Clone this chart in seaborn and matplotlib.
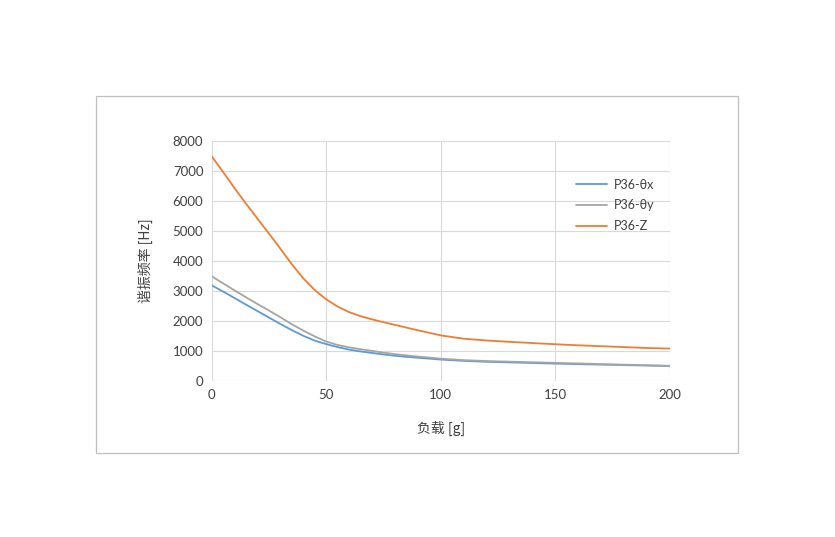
import numpy as np
import pandas as pd
import matplotlib.pyplot as plt
import matplotlib.patches as mpatches
import seaborn as sns

# 负载 [g] 和谐振频率 [Hz]
load = [0, 5, 10, 15, 20, 25, 30, 35, 40, 45, 50, 55, 60, 65, 70, 75, 80, 85, 90, 95, 100,
        110, 120, 130, 140, 150, 160, 170, 180, 190, 200]
p36_tx = [3190, 2980, 2765, 2545, 2330, 2115, 1900, 1695, 1505, 1345, 1230, 1130, 1045, 985,
          935, 885, 840, 805, 775, 745, 715,
          670, 640, 620, 600, 580, 562, 546, 530, 515, 500]
p36_ty = [3490, 3255, 3020, 2790, 2565, 2350, 2125, 1890, 1680, 1485, 1315, 1200, 1120, 1060,
          1005, 945, 895, 855, 815, 780, 745,
          695, 665, 645, 625, 605, 585, 565, 545, 525, 505]
p36_z = [7490, 6965, 6425, 5910, 5410, 4915, 4410, 3890, 3420, 3030, 2720, 2480, 2295, 2160,
         2055, 1960, 1870, 1780, 1690, 1605, 1520,
         1410, 1350, 1305, 1265, 1225, 1190, 1160, 1130, 1100, 1080]
series_names = ['P36-θx', 'P36-θy', 'P36-Z']

df = pd.DataFrame({'load': load, 'P36-θx': p36_tx, 'P36-θy': p36_ty, 'P36-Z': p36_z})
long_df = df.melt(id_vars='load', var_name='series', value_name='freq')

sns.set_style('white')
plt.rcParams['font.family'] = ['Lato', 'Noto Sans CJK SC', 'DejaVu Sans']

fig = plt.figure(figsize=(8.35, 5.37), dpi=100)
ax = fig.add_axes([0.2535, 0.2905, 0.5489, 0.4469])

palette = {'P36-θx': '#5B9BD5', 'P36-θy': '#A5A5A5', 'P36-Z': '#ED7D31'}
sns.lineplot(data=long_df, x='load', y='freq', hue='series', hue_order=series_names,
             palette=palette, linewidth=1.3, ax=ax)

ax.set_xlim(0, 200)
ax.set_ylim(0, 8000)
ax.set_xticks(range(0, 201, 50))
ax.set_yticks(range(0, 8001, 1000))
ax.grid(True, color='#d9d9d9', linewidth=0.8)
ax.set_axisbelow(True)
for s in ax.spines.values():
    s.set_visible(False)
ax.tick_params(length=0, labelsize=9.5, colors='#404040', pad=6)

ax.set_xlabel('负载 [g]', fontsize=10, color='#404040', labelpad=14,
              family=['Noto Sans CJK SC', 'DejaVu Sans'])
ax.set_ylabel('谐振频率 [Hz]', fontsize=10, color='#404040', labelpad=14,
              family=['Noto Sans CJK SC', 'DejaVu Sans'])

leg = ax.legend(loc='upper right', bbox_to_anchor=(0.99, 0.89), frameon=False,
                fontsize=9, handlelength=2.5, labelspacing=0.7, handletextpad=0.5)
for t in leg.get_texts():
    t.set_color('#404040')

# 外框
fig.patches.append(mpatches.Rectangle((96 / 835, 1 - 453 / 537), 642 / 835, 357 / 537,
                                      transform=fig.transFigure, fill=False,
                                      edgecolor='#bfbfbf', linewidth=0.9))

fig.savefig('out.png', dpi=100, facecolor='white')
